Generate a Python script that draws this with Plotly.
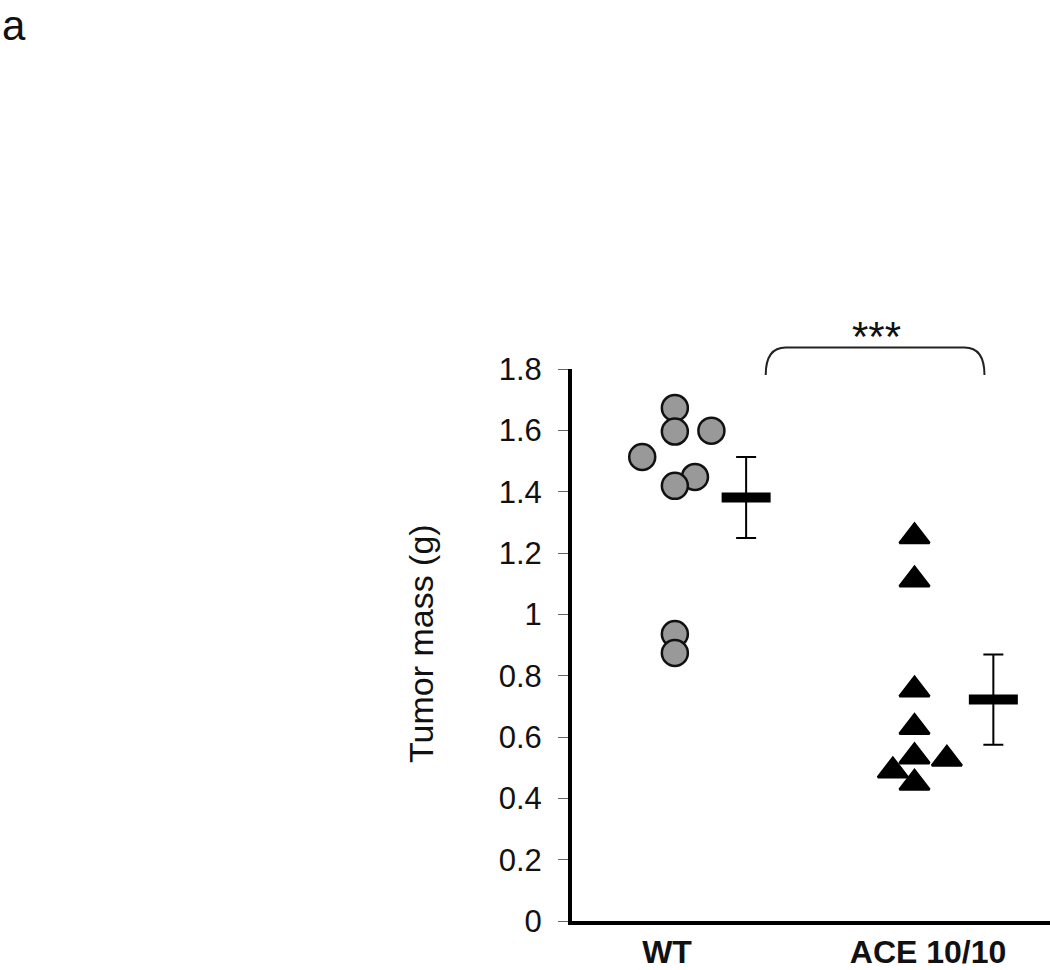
import plotly.graph_objects as go

# ---------------- data ----------------
categories = ["WT", "ACE 10/10"]
category_pos = [1, 2]

wt_values = [1.673, 1.596, 1.599, 1.513, 1.448, 1.419, 0.936, 0.874]
wt_jitter = [0.03, 0.03, 0.17, -0.095, 0.107, 0.03, 0.03, 0.03]

ace_values = [1.254, 1.113, 0.754, 0.632, 0.536, 0.490, 0.450, 0.528]
ace_jitter = [-0.052, -0.052, -0.052, -0.052, -0.052, -0.135, -0.052, 0.072]

group_means = [1.381, 0.722]
group_errors = [0.132, 0.147]
mean_offset = [0.303, 0.25]

ytick_vals = [0, 0.2, 0.4, 0.6, 0.8, 1.0, 1.2, 1.4, 1.6, 1.8]
ytick_text = ["0", "0.2", "0.4", "0.6", "0.8", "1", "1.2", "1.4", "1.6", "1.8"]

significance = "***"
panel_label = "a"
y_title = "Tumor mass (g)"

# ---------------- figure ----------------
FONT = "Arial, 'Liberation Sans', Helvetica, sans-serif"
W, H = 1050, 970
ML, MR, MT, MB = 572, 0, 369, 49
PW = W - ML - MR
PH = H - MT - MB
XR = [0.636, 2.467]

fig = go.Figure()

fig.add_trace(go.Scatter(
    x=[category_pos[0] + j for j in wt_jitter], y=wt_values,
    mode="markers",
    marker=dict(symbol="circle", size=26, color="#999999",
                line=dict(color="#111111", width=2.5)),
    showlegend=False, cliponaxis=False,
))

fig.add_trace(go.Scatter(
    x=[category_pos[1] + j for j in ace_jitter], y=ace_values,
    mode="markers",
    marker=dict(symbol="triangle-up", size=26, color="#000000",
                line=dict(color="#000000", width=2.5)),
    showlegend=False, cliponaxis=False,
))

fig.add_trace(go.Scatter(
    x=[p + o for p, o in zip(category_pos, mean_offset)], y=group_means,
    mode="markers",
    marker=dict(symbol="line-ew", size=35, color="#000000",
                line=dict(color="#000000", width=10)),
    error_y=dict(type="data", array=group_errors, visible=True,
                 thickness=2, width=10, color="#000000"),
    showlegend=False, cliponaxis=False,
))

def py(p):
    return (H - MB - p) / PH

# bracket
bx0, bx1 = 1.378, 2.216
rx = 20 / PW * (XR[1] - XR[0])
yt, yb = py(347.5), py(375)
path = (f"M {bx0},{yb} Q {bx0},{yt} {bx0 + rx},{yt} "
        f"L {bx1 - rx},{yt} Q {bx1},{yt} {bx1},{yb}")
fig.add_shape(type="path", path=path, xref="x", yref="paper",
              line=dict(color="#222222", width=2))

fig.add_annotation(x=(bx0 + bx1) / 2 + 0.004, y=py(362), xref="x", yref="paper",
                   text=significance, showarrow=False, xanchor="center", yanchor="bottom",
                   font=dict(family=FONT, size=42, color="#111111"))

fig.add_annotation(x=(421 - ML) / PW, y=py(644), xref="paper", yref="paper",
                   text=y_title, textangle=-90, showarrow=False,
                   xanchor="center", yanchor="middle",
                   font=dict(family=FONT, size=34, color="#111111"))

fig.add_annotation(x=(0 - ML) / PW, y=py(0), xref="paper", yref="paper",
                   text=panel_label, showarrow=False, xanchor="left", yanchor="top",
                   font=dict(family=FONT, size=42, color="#111111"))

fig.update_layout(
    width=W, height=H,
    margin=dict(l=ML, r=MR, t=MT, b=MB, pad=0, autoexpand=False),
    paper_bgcolor="white", plot_bgcolor="white",
    font=dict(family=FONT, color="#111111"),
    showlegend=False,
)

fig.update_xaxes(
    range=XR, showgrid=False, zeroline=False, automargin=False,
    showline=True, linecolor="#000000", linewidth=4,
    tickvals=category_pos, ticktext=categories, ticks="",
    tickfont=dict(family=FONT, size=32, color="#111111", weight="bold"),
    ticklabelstandoff=0,
)
fig.update_yaxes(
    range=[0, 1.8], showgrid=False, zeroline=False, automargin=False,
    showline=True, linecolor="#000000", linewidth=4,
    tickvals=ytick_vals, ticktext=ytick_text,
    ticks="outside", ticklen=10, tickwidth=1, tickcolor="#666666",
    tickfont=dict(family=FONT, size=31, color="#111111"),
    ticklabelstandoff=10,
)

fig.write_html("out.html", config={"displayModeBar": False},
               post_script="document.body.style.margin='0px';document.body.style.padding='0px';")
